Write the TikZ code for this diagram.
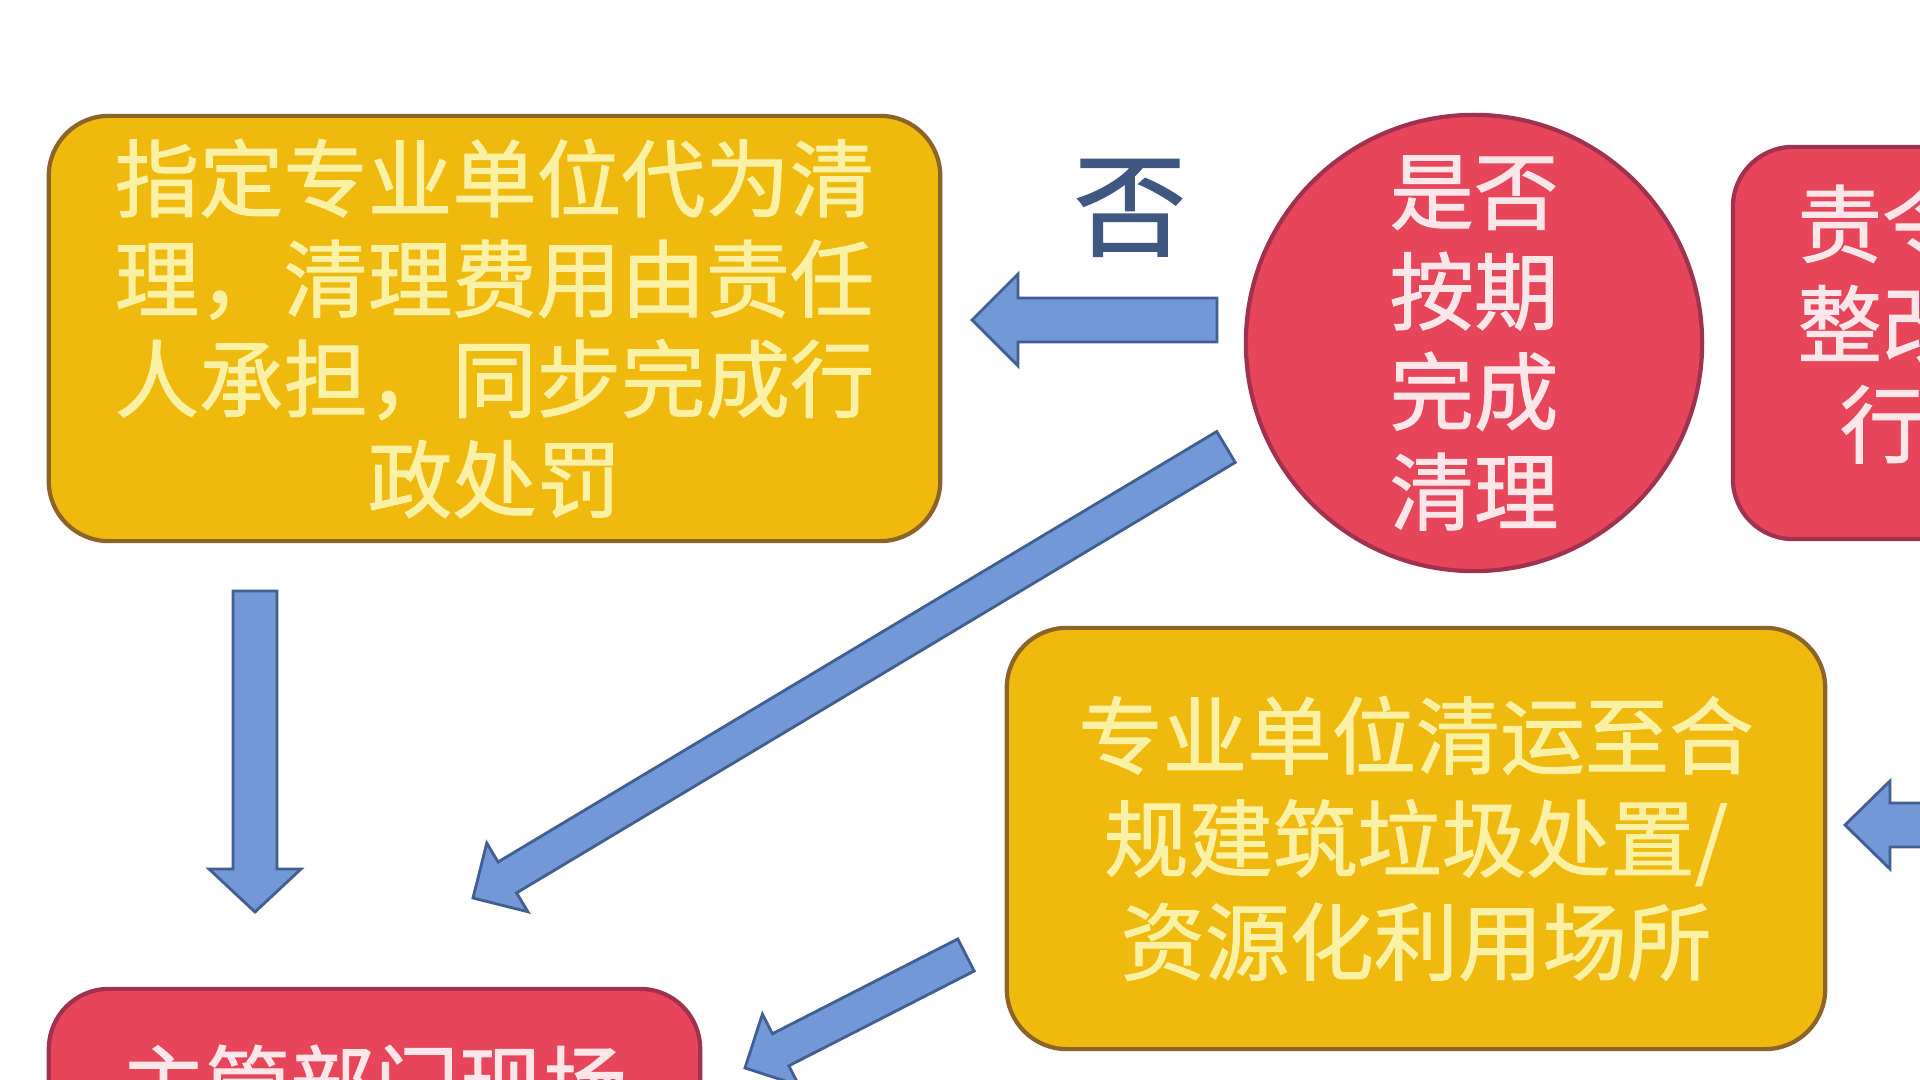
\documentclass[tikz,border=0pt]{standalone}
\usepackage{fontspec}
\usepackage{tikz}
\usetikzlibrary{calc}
\newfontfamily\cjk[FakeBold=1.2]{Noto Sans CJK SC}
\definecolor{boxyellow}{RGB}{239,185,14}
\definecolor{edgebrown}{RGB}{140,100,40}
\definecolor{textcream}{RGB}{250,241,165}
\definecolor{boxred}{RGB}{231,70,90}
\definecolor{edgered}{RGB}{160,50,80}
\definecolor{textpink}{RGB}{252,230,234}
\definecolor{arrowblue}{RGB}{114,152,216}
\definecolor{arrowedge}{RGB}{65,95,145}
\definecolor{nocolor}{RGB}{62,88,130}

% tail, tip, half shaft, half head, head length
\newcommand{\fatarrow}[5]{%
  \coordinate (fa-m) at ($(#2)!#5!(#1)$);
  \draw[arrowbody] ($(#1)!#3!90:(#2)$) -- ($(fa-m)!#3!90:(#2)$)
    -- ($(fa-m)!#4!90:(#2)$) -- (#2) -- ($(fa-m)!#4!-90:(#2)$)
    -- ($(fa-m)!#3!-90:(#2)$) -- ($(#1)!#3!-90:(#2)$) -- cycle;}

\begin{document}
\begin{tikzpicture}[x=0.01cm, y=-0.01cm,
    yellowbox/.style={draw=edgebrown, line width=1.2pt, fill=boxyellow, rounded corners=0.6cm,
      text=textcream, font=\cjk\fontsize{24pt}{28.5pt}\selectfont, align=center, inner sep=0pt},
    redbox/.style={draw=edgered, line width=1.2pt, fill=boxred, rounded corners=0.6cm},
    lighttext/.style={text=textpink, font=\cjk\fontsize{24pt}{28.5pt}\selectfont, align=center, inner sep=0pt},
    arrowbody/.style={draw=arrowedge, line width=0.8pt, fill=arrowblue, line join=miter}]
  \useasboundingbox[fill=white] (0,0) rectangle (1920,1080);

  \node[yellowbox, minimum width=8.91cm, minimum height=4.25cm] (agent) at (494.5,328.5)
    {指定专业单位代为清\\理，清理费用由责任\\人承担，同步完成行\\政处罚};
  \node[circle, draw=edgered, line width=1.2pt, fill=boxred, minimum size=4.56cm, lighttext] (check) at (1474,343)
    {是否\\按期\\完成\\清理};
  \node[redbox, minimum width=2.98cm, minimum height=3.92cm] (order) at (1882,343) {};
  \node[lighttext] (ordertext) at (1882,324) {责令\\整改\\行};
  \node[yellowbox, minimum width=8.18cm, minimum height=4.21cm, font=\cjk\fontsize{24pt}{29.3pt}\selectfont] (transport) at (1416,838.5)
    {专业单位清运至合\\规建筑垃圾处置/\\资源化利用场所};
  \node[redbox, minimum width=6.51cm, minimum height=3.6cm] (site) at (374.5,1169) {};
  \node[lighttext] (sitetext) at (374.5,1084) {主管部门现场};
  \node[text=nocolor, font=\cjk\fontsize{32pt}{38pt}\selectfont] (no) at (1130,208) {否};

  % block arrows
  \coordinate (noTail) at (1217,320);
  \coordinate (noTip) at (972,320);
  \coordinate (diagTail) at (1226,447);
  \coordinate (diagTip) at (473,898);
  \coordinate (downTail) at (255,591);
  \coordinate (downTip) at (255,912);
  \coordinate (backTail) at (966,955);
  \coordinate (backTip) at (745,1068);
  \coordinate (inTail) at (2060,825);
  \coordinate (inTip) at (1845,825);
  \fatarrow{noTail}{noTip}{0.22cm}{0.46cm}{0.46cm}
  \fatarrow{diagTail}{diagTip}{0.18cm}{0.40cm}{0.40cm}
  \fatarrow{downTail}{downTip}{0.22cm}{0.46cm}{0.43cm}
  \fatarrow{backTail}{backTip}{0.18cm}{0.40cm}{0.40cm}
  \fatarrow{inTail}{inTip}{0.22cm}{0.44cm}{0.45cm}
\end{tikzpicture}
\end{document}
